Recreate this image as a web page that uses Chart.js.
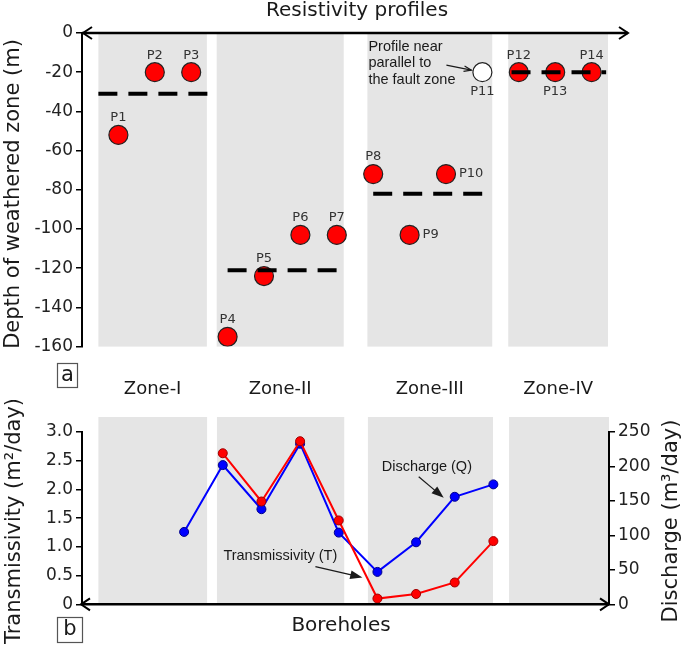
<!DOCTYPE html>
<html>
<head>
<meta charset="utf-8">
<script src="https://cdn.jsdelivr.net/npm/chart.js@4.4.1/dist/chart.umd.min.js"></script>
<style>
  html, body { margin: 0; padding: 0; background: #fff; }
  #wrap { position: relative; width: 685px; height: 646px; }
  .box { position: absolute; left: 0; width: 685px; }
</style>
</head>
<body>
<div id="wrap">
  <div class="box" style="top:0;height:400px"><canvas id="chTop"></canvas></div>
  <div class="box" style="top:400px;height:246px"><canvas id="chBot"></canvas></div>
</div>
<script>
/* Weathered-zone depth per resistivity profile (a) and borehole T / Q (b). */
var PROFILES = ["P1", "P2", "P3", "P4", "P5", "P6", "P7", "P8", "P9", "P10", "P11", "P12", "P13", "P14"];
var PROFILE_X = [1, 2, 3, 4, 5, 6, 7, 8, 9, 10, 11, 12, 13, 14];
var DEPTH = [-52, -20, -20, -155, -124, -103, -103, -72, -103, -72, -20, -20, -20, -20];
var LABEL_SIDE = ["up", "up", "up", "up", "up", "up", "up", "up", "right", "right", "down", "up", "down", "up"];
var OUTLIER = "P11";

var ZONES = ["Zone-I", "Zone-II", "Zone-III", "Zone-IV"];
var ZONE_FROM = [0.45, 3.7, 7.84, 11.71];
var ZONE_TO = [3.43, 7.19, 11.27, 14.45];
var ZONE_MEAN = [-31, -121, -82, -20];
var MEAN_FROM = [0.45, 4, 8, 11.8];
var MEAN_TO = [3.45, 7, 11, 14.4];

var BH_X = [2.8, 3.86, 4.92, 5.98, 7.04, 8.1, 9.16, 10.22, 11.28];
var DISCHARGE = [105, 202, 138, 233, 104, 47, 90, 156, 174];
var TRANSMISSIVITY = [null, 2.63, 1.79, 2.84, 1.46, 0.10, 0.18, 0.38, 1.10];

var RED = "#ff0000", BLUE = "#0000ff", GREY = "#e5e5e5", INK = "#1a1a1a";
var FONT = "'DejaVu Sans', sans-serif", ARIAL = "'Liberation Sans', Arial, sans-serif";

Chart.defaults.font.family = FONT;
Chart.defaults.color = "#222";
Chart.defaults.plugins.legend.display = false;
Chart.defaults.plugins.tooltip.enabled = false;
Chart.defaults.animation = false;

function txt(ctx, s, x, y, font, align, color) {
  ctx.save();
  ctx.font = font; ctx.fillStyle = color || INK;
  ctx.textAlign = align || "center"; ctx.textBaseline = "middle";
  ctx.fillText(s, x, y);
  ctx.restore();
}
function vtxt(ctx, s, x, y, font) {
  ctx.save();
  ctx.translate(x, y); ctx.rotate(-Math.PI / 2);
  ctx.font = font; ctx.fillStyle = INK;
  ctx.textAlign = "center"; ctx.textBaseline = "middle";
  ctx.fillText(s, 0, 0);
  ctx.restore();
}
function chevron(ctx, x, y, dir) { // open arrow head, dir = -1 left, 1 right
  ctx.beginPath();
  ctx.moveTo(x - dir * 9, y - 6); ctx.lineTo(x, y); ctx.lineTo(x - dir * 9, y + 6);
  ctx.stroke();
}
function arrow(ctx, x1, y1, x2, y2, size, filled) {
  var a = Math.atan2(y2 - y1, x2 - x1);
  ctx.save();
  ctx.strokeStyle = INK; ctx.fillStyle = INK; ctx.lineWidth = 1.2;
  ctx.beginPath(); ctx.moveTo(x1, y1);
  ctx.lineTo(x2 - (filled ? size * 0.8 : 0) * Math.cos(a), y2 - (filled ? size * 0.8 : 0) * Math.sin(a));
  ctx.stroke();
  ctx.beginPath();
  ctx.moveTo(x2 - size * Math.cos(a - 0.35), y2 - size * Math.sin(a - 0.35));
  ctx.lineTo(x2, y2);
  ctx.lineTo(x2 - size * Math.cos(a + 0.35), y2 - size * Math.sin(a + 0.35));
  if (filled) { ctx.closePath(); ctx.fill(); } else { ctx.stroke(); }
  ctx.restore();
}
function boxLetter(ctx, s, x, y, w, h) {
  ctx.save();
  ctx.strokeStyle = "#555"; ctx.lineWidth = 1.2;
  ctx.strokeRect(x + 0.5, y + 0.5, w, h);
  ctx.restore();
  txt(ctx, s, x + w / 2 + 0.5, y + h / 2 + 0.5, "21px " + FONT);
}

var bandPlugin = {
  id: "bands",
  beforeDraw: function (chart, args, opts) {
    var ctx = chart.ctx, x = chart.scales.x, a = chart.chartArea;
    ctx.save(); ctx.fillStyle = GREY;
    for (var i = 0; i < ZONE_FROM.length; i++) {
      var l = x.getPixelForValue(ZONE_FROM[i]), r = x.getPixelForValue(ZONE_TO[i]);
      ctx.fillRect(l, a.top - opts.extra, r - l, a.bottom - a.top + opts.extra);
    }
    ctx.restore();
  }
};

function yAxis(min, max, step, pos, width, fmt) {
  return {
    type: "linear", position: pos, min: min, max: max,
    afterFit: function (s) { s.width = width; },
    border: { display: true, color: "#000", width: 2 },
    grid: { drawOnChartArea: false, drawTicks: true, tickLength: 6, color: "#000", lineWidth: 1.5 },
    ticks: { stepSize: step, padding: 3, color: "#222", font: { size: 17, family: FONT }, callback: fmt }
  };
}

/* ---------------- (a) profile depths ---------------- */
var meanSets = ZONE_MEAN.map(function (m, i) {
  return {
    data: [{ x: MEAN_FROM[i], y: m }, { x: MEAN_TO[i], y: m }],
    showLine: true, borderColor: "#000", borderWidth: 4, borderDash: [19, 11],
    pointRadius: 0, order: 0
  };
});
var profileSet = {
  data: PROFILE_X.map(function (x, i) { return { x: x, y: DEPTH[i] }; }),
  pointRadius: 9.5, pointBorderWidth: 1.2, pointBorderColor: "#222",
  pointBackgroundColor: PROFILES.map(function (p) { return p === OUTLIER ? "#fff" : RED; }),
  order: 1
};

var topAnno = {
  id: "topAnno",
  afterDraw: function (chart) {
    var ctx = chart.ctx, a = chart.chartArea, x = chart.scales.x;
    var pts = chart.getDatasetMeta(meanSets.length).data;
    // top axis with arrows
    ctx.save();
    ctx.strokeStyle = "#000"; ctx.lineWidth = 2.5;
    ctx.beginPath(); ctx.moveTo(a.left, a.top); ctx.lineTo(a.right, a.top); ctx.stroke();
    ctx.lineWidth = 2;
    chevron(ctx, a.left + 1, a.top, -1);
    chevron(ctx, a.right, a.top, 1);
    ctx.restore();
    // profile labels
    PROFILES.forEach(function (p, i) {
      var px = pts[i].x, py = pts[i].y, f = "13px " + FONT;
      if (LABEL_SIDE[i] === "up") txt(ctx, p, px, py - 17, f, "center", "#333");
      else if (LABEL_SIDE[i] === "down") txt(ctx, p, px, py + 19, f, "center", "#333");
      else txt(ctx, p, px + 13, py, f, "left", "#333");
    });
    // outlier note
    var o = pts[PROFILES.indexOf(OUTLIER)];
    var nf = "14.5px " + ARIAL;
    txt(ctx, "Profile near", o.x - 114, o.y - 25, nf, "left");
    txt(ctx, "parallel to", o.x - 114, o.y - 9, nf, "left");
    txt(ctx, "the fault zone", o.x - 114, o.y + 8, nf, "left");
    arrow(ctx, o.x - 36, o.y - 7, o.x - 11, o.y - 2, 8, false);
    // titles
    txt(ctx, "Resistivity profiles", 357, 11, "20px " + FONT);
    vtxt(ctx, "Depth of weathered zone (m)", 14, 194, "21px " + FONT);
    ZONES.forEach(function (z, i) {
      txt(ctx, z, x.getPixelForValue((ZONE_FROM[i] + ZONE_TO[i]) / 2), 389, "18px " + FONT);
    });
    boxLetter(ctx, "a", 57, 363, 20, 24);
  }
};

new Chart(document.getElementById("chTop"), {
  type: "scatter",
  data: { datasets: meanSets.concat([profileSet]) },
  options: {
    responsive: true, maintainAspectRatio: false,
    layout: { padding: { top: 33, right: 57, bottom: 53.4, left: 0 } },
    plugins: { bands: { extra: -1 } },
    scales: {
      x: { type: "linear", min: 0, max: 15, display: false },
      y: yAxis(-160, 0, 20, "left", 82)
    }
  },
  plugins: [bandPlugin, topAnno]
});

/* ---------------- (b) boreholes ---------------- */
function series(vals) {
  var out = [];
  vals.forEach(function (v, i) { if (v !== null) out.push({ x: BH_X[i], y: v }); });
  return out;
}

var botAnno = {
  id: "botAnno",
  afterDraw: function (chart) {
    var ctx = chart.ctx, a = chart.chartArea;
    var y0 = chart.scales.yT.getPixelForValue(0);
    ctx.save();
    ctx.strokeStyle = "#000"; ctx.lineWidth = 2.5;
    ctx.beginPath(); ctx.moveTo(a.left, y0); ctx.lineTo(a.right, y0); ctx.stroke();
    ctx.lineWidth = 2;
    chevron(ctx, a.left - 1, y0, -1);
    chevron(ctx, a.right, y0, 1);
    ctx.restore();

    var q = chart.getDatasetMeta(1).data[7];
    var t = chart.getDatasetMeta(0).data[4];
    var nf = "14.5px " + ARIAL;
    txt(ctx, "Discharge (Q)", q.x - 73, q.y - 30, nf, "left");
    arrow(ctx, q.x - 36, q.y - 20, q.x - 11, q.y + 1, 13, true);
    txt(ctx, "Transmissivity (T)", t.x - 154, t.y - 43, nf, "left");
    arrow(ctx, t.x - 62, t.y - 32, t.x - 15, t.y - 21, 13, true);

    txt(ctx, "Boreholes", 341, 226, "20px " + FONT);
    vtxt(ctx, "Transmissivity (m\u00b2/day)", 15, 121, "21px " + FONT);
    vtxt(ctx, "Discharge (m\u00b3/day)", 672, 121, "21px " + FONT);
    boxLetter(ctx, "b", 57, 217, 25, 25);
  }
};

new Chart(document.getElementById("chBot"), {
  type: "scatter",
  data: {
    datasets: [
      {
        data: series(TRANSMISSIVITY), yAxisID: "yT", showLine: true,
        borderColor: RED, borderWidth: 2, pointRadius: 4.5, pointBorderWidth: 1,
        pointBackgroundColor: RED, pointBorderColor: "#a00000", order: 0
      },
      {
        data: series(DISCHARGE), yAxisID: "yQ", showLine: true,
        borderColor: BLUE, borderWidth: 2, pointRadius: 4.5, pointBorderWidth: 1,
        pointBackgroundColor: BLUE, pointBorderColor: "#00008b", order: 1
      }
    ]
  },
  options: {
    responsive: true, maintainAspectRatio: false,
    layout: { padding: { top: 32, right: 0, bottom: 41.7, left: 0 } },
    plugins: { bands: { extra: 15 } },
    scales: {
      x: { type: "linear", min: 0, max: 14.45, display: false },
      yT: yAxis(0, 3, 0.5, "left", 82, function (v) { return v === 0 ? "0" : v.toFixed(1); }),
      yQ: yAxis(0, 250, 50, "right", 76)
    }
  },
  plugins: [bandPlugin, botAnno]
});
</script>
</body>
</html>
